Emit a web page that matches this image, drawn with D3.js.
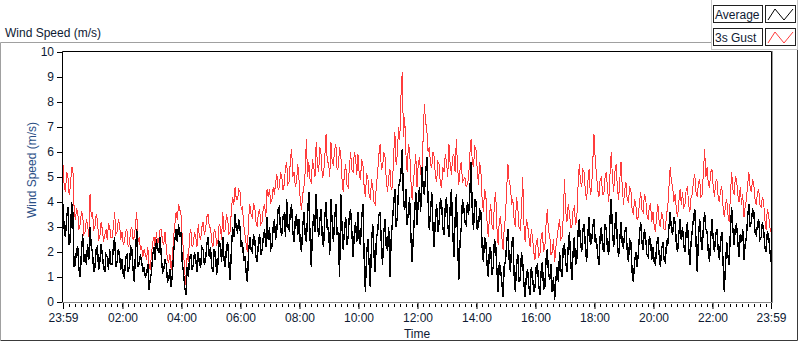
<!DOCTYPE html>
<html>
<head>
<meta charset="utf-8">
<script src="https://cdn.jsdelivr.net/npm/d3@7"></script>
<style>
  body { margin: 0; background: #fff; }
  svg { display: block; font-family: "Liberation Sans", Arial, sans-serif; }
</style>
</head>
<body>
<div id="chart"></div>
<script>
// 2.5-minute samples from 23:59 (prev day) to 23:59, one row per hour
const gust = [
  5.5, 4.6, 4.4, 5.2, 5.0, 4.3, 4.6, 5.4, 5.4, 3.8, 3.3, 3.7, 3.6, 2.9, 3.1, 3.6, 3.5, 2.7, 2.8, 3.3, 3.1, 2.6, 4.3, 3.4,
  3.6, 2.9, 3.0, 3.5, 3.3, 2.5, 2.6, 3.2, 2.9, 2.4, 2.7, 2.9, 2.5, 3.1, 3.0, 2.6, 2.6, 3.0, 3.6, 2.7, 2.8, 3.3, 3.1, 2.5,
  2.8, 2.3, 2.4, 2.8, 2.9, 2.2, 2.3, 2.9, 3.0, 2.5, 2.6, 3.1, 3.6, 2.4, 2.6, 2.1, 2.2, 1.8, 2.1, 1.9, 1.7, 2.2, 1.5, 1.3,
  1.9, 2.4, 2.6, 2.2, 2.8, 2.3, 2.5, 2.9, 2.9, 2.4, 2.3, 2.8, 2.2, 1.7, 1.6, 1.9, 1.3, 1.8, 2.6, 3.1, 3.6, 3.3, 3.9, 3.7,
  3.5, 2.6, 2.1, 1.2, 0.7, 1.9, 1.6, 2.7, 2.9, 2.2, 2.3, 2.8, 2.6, 2.2, 3.1, 2.6, 2.5, 3.0, 3.2, 2.7, 2.9, 3.4, 3.5, 3.0,
  3.0, 2.4, 2.2, 2.9, 2.8, 2.3, 2.4, 3.1, 3.0, 2.5, 3.6, 2.8, 2.9, 3.5, 3.3, 2.7, 2.8, 3.7, 4.2, 3.9, 4.6, 4.1, 4.1, 4.5,
  4.4, 3.7, 3.8, 3.1, 2.7, 2.3, 2.0, 3.3, 3.9, 3.5, 3.4, 3.9, 3.8, 3.2, 3.0, 3.6, 3.7, 3.1, 3.2, 3.8, 3.9, 3.4, 4.5, 4.2,
  4.5, 4.0, 4.1, 4.6, 4.3, 4.8, 5.1, 4.5, 4.6, 5.2, 5.0, 4.5, 4.7, 5.4, 5.6, 4.7, 4.8, 5.7, 6.1, 5.0, 5.2, 4.6, 4.8, 5.5,
  4.9, 4.1, 3.7, 4.3, 4.6, 5.2, 6.5, 5.0, 5.6, 4.9, 4.8, 5.7, 5.4, 5.0, 6.4, 5.5, 5.2, 6.2, 5.9, 5.0, 5.1, 5.8, 6.7, 5.6,
  5.6, 5.0, 6.4, 5.6, 5.5, 6.1, 6.3, 5.3, 5.4, 6.2, 5.9, 4.9, 4.4, 5.2, 5.5, 4.7, 4.6, 5.4, 6.0, 5.3, 5.2, 6.0, 5.8, 5.1,
  5.9, 5.1, 4.9, 5.7, 5.5, 4.6, 4.2, 5.1, 5.0, 4.3, 4.1, 4.9, 4.6, 4.0, 3.9, 4.7, 5.2, 5.9, 6.3, 5.3, 5.4, 6.0, 5.8, 4.9,
  4.4, 5.0, 5.3, 4.5, 4.6, 5.9, 6.8, 5.5, 5.9, 7.0, 6.5, 8.3, 9.2, 6.6, 7.4, 5.9, 5.2, 6.3, 6.1, 4.9, 4.1, 4.8, 5.3, 5.9,
  4.6, 5.5, 5.8, 5.1, 5.0, 6.6, 7.9, 7.2, 6.9, 6.0, 6.2, 5.5, 5.4, 6.0, 5.8, 5.0, 4.8, 5.6, 5.5, 4.7, 4.6, 5.4, 5.2, 5.9,
  5.6, 5.0, 6.3, 5.5, 5.1, 5.8, 5.9, 5.2, 6.5, 5.4, 4.7, 5.3, 5.6, 4.8, 4.9, 5.0, 4.6, 4.7, 5.0, 5.9, 6.5, 5.6, 5.4, 6.2,
  6.1, 5.3, 4.7, 5.6, 5.2, 4.1, 3.6, 4.5, 4.3, 3.2, 2.6, 3.5, 3.9, 3.1, 2.9, 4.0, 4.4, 3.0, 2.3, 3.3, 3.4, 2.6, 2.1, 3.0,
  3.4, 4.6, 5.5, 4.8, 4.6, 3.9, 4.1, 3.3, 3.0, 4.2, 3.8, 3.0, 2.9, 3.6, 5.0, 3.1, 2.4, 3.3, 3.1, 2.6, 2.2, 2.9, 2.6, 2.0,
  1.7, 2.4, 2.5, 1.8, 1.9, 2.6, 2.8, 2.0, 2.2, 3.1, 3.7, 2.8, 2.7, 1.9, 2.0, 2.5, 1.6, 2.2, 2.6, 3.0, 3.3, 2.5, 2.6, 3.4,
  4.9, 3.6, 3.2, 3.9, 3.6, 3.0, 3.0, 3.7, 3.8, 3.1, 3.3, 4.6, 5.5, 4.8, 4.6, 5.3, 5.2, 4.4, 4.1, 4.8, 5.3, 4.3, 4.5, 5.6,
  6.7, 5.7, 5.1, 4.5, 4.2, 4.9, 5.0, 4.3, 4.3, 5.0, 5.2, 4.5, 4.0, 5.1, 6.0, 5.0, 4.4, 5.2, 5.5, 4.6, 4.1, 4.9, 5.6, 4.6,
  3.9, 4.5, 4.8, 4.1, 4.0, 4.6, 4.5, 3.7, 3.5, 4.1, 3.9, 3.3, 3.4, 4.0, 4.4, 3.7, 3.6, 4.3, 4.2, 3.5, 3.3, 3.8, 3.9, 3.2,
  3.6, 3.0, 2.8, 3.5, 3.9, 3.2, 3.0, 3.6, 3.4, 2.9, 2.9, 3.5, 3.8, 4.6, 5.4, 4.8, 4.6, 4.0, 4.3, 3.7, 3.4, 4.0, 4.5, 3.9,
  4.4, 3.8, 3.9, 4.5, 4.6, 3.9, 3.6, 4.2, 4.3, 4.9, 5.1, 4.4, 4.2, 4.8, 4.9, 4.2, 4.3, 5.2, 6.1, 5.0, 5.4, 4.7, 4.6, 5.2,
  5.3, 4.6, 4.2, 4.8, 4.9, 4.2, 4.0, 4.5, 4.6, 3.8, 3.4, 3.9, 4.1, 3.5, 3.2, 4.3, 5.2, 4.5, 4.3, 5.0, 4.9, 4.3, 4.0, 4.6,
  3.9, 4.3, 3.4, 3.8, 4.1, 4.7, 5.2, 4.6, 4.4, 4.9, 4.7, 4.1, 3.9, 4.4, 4.5, 3.9, 3.8, 4.2, 4.0, 3.3, 2.9, 3.7, 3.5, 3.0, 2.8
];

const average = [
  3.9, 2.9, 2.6, 3.4, 3.8, 2.3, 2.4, 4.0, 3.6, 1.4, 1.5, 2.1, 2.2, 1.3, 1.0, 2.0, 2.7, 1.6, 1.9, 1.5, 2.3, 1.7, 3.0, 2.2,
  2.0, 1.2, 1.4, 2.1, 2.2, 1.3, 1.6, 2.3, 1.9, 1.4, 1.2, 1.9, 1.8, 1.3, 2.1, 1.5, 1.5, 2.2, 2.6, 1.4, 1.6, 2.1, 1.9, 1.3,
  1.7, 1.1, 1.0, 1.8, 1.9, 1.2, 1.4, 2.2, 2.1, 1.3, 0.8, 2.0, 2.9, 1.4, 1.5, 1.9, 1.6, 1.2, 1.4, 1.0, 1.1, 1.5, 0.5, 0.9,
  1.2, 1.9, 2.2, 1.7, 2.5, 2.1, 2.0, 2.6, 1.8, 1.2, 1.3, 1.7, 1.5, 0.8, 0.9, 1.3, 0.6, 1.1, 2.0, 2.5, 2.9, 2.4, 3.1, 2.6,
  2.8, 1.6, 1.2, 0.6, 0.3, 1.4, 1.0, 1.8, 1.9, 1.3, 1.5, 2.0, 1.7, 1.2, 2.0, 1.5, 1.4, 2.2, 2.1, 1.5, 1.7, 2.3, 2.6, 1.8,
  2.2, 1.4, 1.2, 2.1, 2.0, 1.1, 1.5, 2.4, 2.3, 1.6, 2.6, 1.7, 1.4, 2.2, 2.4, 1.5, 0.9, 2.1, 3.0, 2.6, 3.5, 2.9, 2.8, 3.3,
  3.0, 2.2, 2.4, 1.7, 1.8, 1.2, 0.8, 2.0, 2.6, 2.1, 2.0, 2.7, 2.5, 1.8, 1.6, 2.4, 2.7, 1.9, 2.1, 2.6, 2.9, 2.2, 3.4, 2.5,
  3.0, 2.1, 2.2, 3.0, 3.3, 2.5, 2.9, 3.7, 3.8, 2.8, 2.7, 3.4, 3.5, 2.6, 4.1, 3.0, 2.9, 3.6, 3.9, 2.8, 2.4, 3.3, 3.5, 2.7,
  3.3, 2.4, 2.0, 3.0, 3.6, 2.7, 2.4, 3.5, 4.4, 2.6, 1.4, 2.9, 3.5, 2.8, 4.3, 3.1, 2.6, 3.3, 3.7, 2.5, 2.2, 3.4, 4.0, 2.9,
  3.0, 1.9, 4.1, 3.2, 2.4, 3.3, 3.9, 2.7, 2.8, 1.0, 4.3, 3.0, 2.1, 2.9, 3.4, 2.3, 2.6, 3.5, 3.7, 2.8, 1.8, 2.7, 3.2, 2.4,
  3.6, 2.5, 2.3, 3.4, 3.9, 1.8, 0.4, 1.9, 2.5, 1.6, 0.6, 2.4, 3.1, 1.9, 1.2, 2.6, 2.8, 3.5, 3.6, 2.3, 1.5, 2.8, 3.3, 2.2,
  2.1, 3.0, 1.0, 2.5, 3.2, 3.9, 4.5, 3.0, 3.4, 4.6, 4.8, 5.2, 6.1, 4.0, 3.7, 4.5, 3.1, 3.6, 4.2, 2.7, 1.6, 2.6, 3.5, 4.4,
  3.1, 4.0, 4.6, 3.6, 5.4, 4.6, 4.3, 5.1, 5.8, 4.1, 2.9, 3.6, 4.4, 3.0, 2.2, 3.4, 3.9, 2.8, 3.2, 4.1, 4.0, 3.0, 2.7, 3.8,
  4.2, 3.1, 2.6, 3.8, 4.5, 2.9, 1.8, 3.3, 4.3, 2.5, 0.9, 2.4, 3.0, 4.1, 3.8, 3.2, 3.1, 4.0, 3.5, 4.4, 5.6, 3.6, 2.9, 4.1,
  4.0, 2.9, 3.0, 3.7, 3.6, 2.2, 1.6, 2.6, 2.4, 1.5, 1.0, 2.2, 2.1, 1.1, 1.4, 2.5, 2.3, 1.3, 0.4, 1.6, 1.3, 0.8, 0.2, 1.5,
  1.6, 2.4, 2.9, 1.7, 1.2, 2.3, 2.6, 1.1, 0.4, 1.5, 1.9, 0.8, 0.9, 2.0, 1.6, 0.7, 0.2, 1.1, 1.3, 0.6, 0.3, 1.4, 1.0, 0.4,
  0.6, 1.4, 1.5, 0.7, 0.3, 1.2, 1.6, 0.5, 0.6, 1.7, 2.1, 1.1, 0.9, 1.5, 0.4, 1.0, 0.1, 0.9, 1.4, 0.8, 2.0, 1.3, 1.0, 2.2,
  2.3, 1.6, 1.2, 2.2, 2.8, 1.7, 0.9, 2.0, 2.6, 1.5, 1.7, 2.8, 3.3, 2.4, 2.0, 2.9, 3.1, 2.2, 1.6, 2.7, 3.4, 2.3, 2.4, 3.0,
  3.3, 2.4, 2.5, 1.9, 1.5, 2.6, 3.0, 2.2, 2.0, 3.1, 2.9, 2.1, 1.9, 3.3, 4.1, 2.9, 2.2, 3.0, 3.6, 2.4, 1.8, 2.5, 3.2, 2.3,
  2.2, 2.8, 3.0, 2.1, 1.6, 2.5, 2.4, 1.2, 0.8, 1.6, 2.0, 1.4, 1.9, 2.7, 3.2, 2.4, 2.1, 2.9, 2.6, 1.9, 1.8, 2.6, 2.5, 1.7,
  2.2, 1.6, 1.5, 2.3, 2.6, 1.9, 1.4, 2.1, 2.4, 1.7, 1.6, 2.4, 2.3, 3.0, 3.6, 2.9, 2.7, 3.4, 3.2, 2.3, 2.0, 2.7, 3.3, 2.5,
  3.0, 2.3, 2.0, 2.8, 3.2, 2.2, 1.5, 2.4, 2.9, 3.4, 3.7, 2.4, 1.2, 2.6, 3.3, 2.5, 2.1, 3.0, 3.6, 2.9, 2.8, 2.0, 1.6, 2.6,
  3.3, 2.5, 2.0, 2.7, 2.9, 2.1, 1.7, 2.5, 2.8, 1.6, 0.4, 1.5, 2.4, 1.8, 1.5, 2.9, 3.8, 2.9, 2.3, 3.0, 3.1, 2.4, 1.8, 2.7,
  2.4, 2.9, 1.7, 2.3, 2.6, 3.4, 3.9, 3.0, 3.2, 3.7, 3.6, 2.8, 2.7, 3.1, 3.3, 2.5, 2.6, 3.2, 2.9, 2.2, 2.0, 2.8, 2.7, 2.1, 1.6
];

const yTicks = [0, 1, 2, 3, 4, 5, 6, 7, 8, 9, 10];
const xTickHours = [2, 4, 6, 8, 10, 12, 14, 16, 18, 20, 22];
const legendItems = [
  { name: 'Average', color: '#000000' },
  { name: '3s Gust', color: '#ff3c3c' }
];

const W = 800, H = 342;
const plot = { left: 63, top: 52, right: 771, bottom: 302 };
const textColor = '#0e1a33';

const t0 = new Date(2000, 0, 0, 23, 59);
const t1 = new Date(2000, 0, 1, 23, 59);
const stepMs = 2.5 * 60000;
const timeAt = i => new Date(t0.getTime() + i * stepMs);

const x = d3.scaleTime().domain([t0, t1]).range([plot.left, plot.right]);
const y = d3.scaleLinear().domain([0, 10]).range([plot.bottom, plot.top]);

const svg = d3.select('#chart').append('svg')
  .attr('width', W)
  .attr('height', H);

// Outer frame
svg.append('path')
  .attr('d', `M0.5,${H - 2} V42.5 H711.5`)
  .attr('fill', 'none')
  .attr('stroke', '#a0a0a0');
svg.append('path')
  .attr('d', `M0.5,${H - 1.5} H797.5 V49`)
  .attr('fill', 'none')
  .attr('stroke', '#3a3a3a');

// Title
svg.append('text')
  .attr('x', 5)
  .attr('y', 37)
  .attr('font-size', 12)
  .attr('fill', textColor)
  .text('Wind Speed (m/s)');

// Legend panel
const legend = svg.append('g');
legend.append('rect')
  .attr('x', 711.5).attr('y', -1)
  .attr('width', 86).attr('height', 50.5)
  .attr('fill', '#fff')
  .attr('stroke', '#c8c8c8');

legendItems.forEach((item, i) => {
  const ly = 5 + i * 23;
  legend.append('rect')
    .attr('x', 713.5).attr('y', ly + 0.5)
    .attr('width', 49).attr('height', 17)
    .attr('fill', '#fff')
    .attr('stroke', '#202020');
  legend.append('text')
    .attr('x', 715).attr('y', ly + 13.5)
    .attr('font-size', 12)
    .attr('fill', textColor)
    .text(item.name);
  legend.append('rect')
    .attr('x', 765.5).attr('y', ly + 0.5)
    .attr('width', 30).attr('height', 17)
    .attr('fill', '#fff')
    .attr('stroke', '#202020');
  legend.append('path')
    .attr('d', `M768,${ly + 15} L775,${ly + 4} L784,${ly + 15} L793,${ly + 4}`)
    .attr('fill', 'none')
    .attr('stroke', item.color)
    .attr('stroke-width', 1);
});

// Plot background + clip
svg.append('clipPath').attr('id', 'clip')
  .append('rect')
  .attr('x', plot.left).attr('y', plot.top)
  .attr('width', plot.right - plot.left).attr('height', plot.bottom - plot.top);

svg.append('rect')
  .attr('x', plot.left).attr('y', plot.top)
  .attr('width', plot.right - plot.left).attr('height', plot.bottom - plot.top)
  .attr('fill', '#fff');

// Series (aliased, like the original instrument display)
const line = d3.line()
  .x((d, i) => x(timeAt(i)))
  .y(d => y(d));

const series = svg.append('g').attr('clip-path', 'url(#clip)');
series.append('path')
  .datum(gust)
  .attr('d', line)
  .attr('fill', 'none')
  .attr('stroke', legendItems[1].color)
  .attr('stroke-width', 1)
  .attr('shape-rendering', 'crispEdges');
series.append('path')
  .datum(average)
  .attr('d', line)
  .attr('fill', 'none')
  .attr('stroke', legendItems[0].color)
  .attr('stroke-width', 1.4)
  .attr('shape-rendering', 'crispEdges');

// Plot border: black top/left/right, gray bottom
svg.append('path')
  .attr('d', `M${plot.left - 0.5},${plot.bottom} V${plot.top - 0.5} H${plot.right + 0.5} V${plot.bottom}`)
  .attr('fill', 'none')
  .attr('stroke', '#000');
svg.append('line')
  .attr('x1', plot.left - 1).attr('x2', plot.right + 1)
  .attr('y1', plot.bottom + 0.5).attr('y2', plot.bottom + 0.5)
  .attr('stroke', '#8a8a8a');
svg.append('line')
  .attr('x1', plot.right + 1.5).attr('x2', plot.right + 1.5)
  .attr('y1', plot.top - 1).attr('y2', plot.bottom + 1)
  .attr('stroke', '#9a9a9a');

// Y axis
const yAxis = svg.append('g')
  .attr('transform', `translate(${plot.left - 1},0)`)
  .call(d3.axisLeft(y).tickValues(yTicks).tickSize(5).tickPadding(3).tickFormat(d3.format('d')));
yAxis.select('.domain').remove();
yAxis.selectAll('line').attr('stroke', '#000');
yAxis.selectAll('text')
  .attr('font-size', 12)
  .attr('font-family', '"Liberation Sans", Arial, sans-serif')
  .attr('fill', textColor);

// X axis: minor ticks every 12 min, labelled ticks every 2 h plus both ends
const minorTicks = d3.timeMinute.every(12).range(new Date(2000, 0, 1, 0, 0), t1);
svg.append('g')
  .selectAll('line')
  .data(minorTicks)
  .join('line')
  .attr('x1', d => Math.round(x(d)) + 0.5)
  .attr('x2', d => Math.round(x(d)) + 0.5)
  .attr('y1', plot.bottom + 2)
  .attr('y2', plot.bottom + 5)
  .attr('stroke', '#000');

const majorTicks = [t0, ...xTickHours.map(h => new Date(2000, 0, 1, h, 0)), t1];
const xAxis = svg.append('g')
  .attr('transform', `translate(0,${plot.bottom + 1})`)
  .call(d3.axisBottom(x).tickValues(majorTicks).tickSize(6).tickPadding(4)
    .tickFormat(d3.timeFormat('%H:%M')));
xAxis.select('.domain').remove();
xAxis.selectAll('line').attr('stroke', '#000');
xAxis.selectAll('text')
  .attr('font-size', 12)
  .attr('font-family', '"Liberation Sans", Arial, sans-serif')
  .attr('fill', textColor);

// Axis titles
svg.append('text')
  .attr('x', (plot.left + plot.right) / 2)
  .attr('y', 338)
  .attr('text-anchor', 'middle')
  .attr('font-size', 12)
  .attr('fill', textColor)
  .text('Time');

svg.append('text')
  .attr('transform', 'translate(36,170) rotate(-90)')
  .attr('text-anchor', 'middle')
  .attr('font-size', 12)
  .attr('fill', '#2b4f86')
  .text('Wind Speed (m/s)');
</script>
</body>
</html>
